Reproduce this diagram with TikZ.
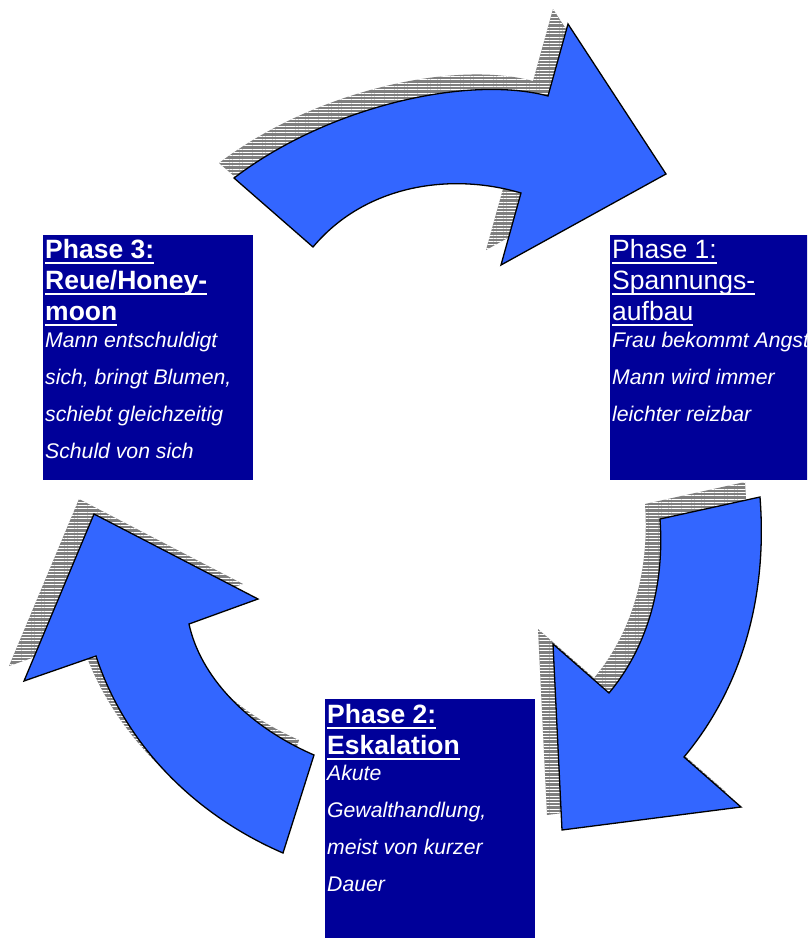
\documentclass[tikz,border=0pt]{standalone}
\usepackage{fontspec}
\setmainfont{Liberation Sans}
\usetikzlibrary{patterns.meta}
\definecolor{arrowblue}{HTML}{3366FF}
\definecolor{boxblue}{HTML}{000099}
\definecolor{shadowgray}{HTML}{7F7F7F}
\newsavebox{\titlebox}
\newcommand{\titleline}[1]{\leavevmode\sbox{\titlebox}{#1}\rlap{\rule[-5.5pt]{\wd\titlebox}{1.8pt}}\usebox{\titlebox}}
\newcommand{\titlefont}{\fontsize{26.5}{31}\selectfont\spaceskip=0pt\xspaceskip=0pt}
\newcommand{\bodyfont}{\fontsize{21.2}{37}\selectfont\mdseries\itshape\spaceskip=0pt\xspaceskip=0pt}
\newcommand{\arrowtop}[1]{\path[#1] (234,178) .. controls (330,105) and (470,75) .. (548,96) -- (568,24) -- (666,174) -- (501,265) -- (521,193) .. controls (450,172) and (365,185) .. (313,247) -- cycle;}
\newcommand{\arrowright}[1]{\path[#1] (760,497) -- (660,519) .. controls (665,590) and (645,650) .. (609,693) -- (553,644) -- (562,830) -- (741,807) -- (684,757) .. controls (740,690) and (768,600) .. (760,497) -- cycle;}
\newcommand{\arrowleft}[1]{\path[#1] (283,853) -- (314,755) .. controls (245,725) and (200,675) .. (189,624) -- (258,599) -- (94,514) -- (24,681) -- (96,656) .. controls (125,745) and (195,815) .. (283,853) -- cycle;}
\begin{document}
\begin{tikzpicture}[x=1pt,y=-1pt]
        \tikzstyle{cyclearrow} = [draw=black, line width=1.3pt, line join=miter, fill=arrowblue]
        \tikzstyle{arrowshadow} = [preaction={fill=shadowgray}, pattern={Lines[angle=0, distance=3.3pt, line width=1pt]}, pattern color=white, shift={(-15,-15)}]
        \tikzstyle{phasebox} = [fill=boxblue, anchor=north west, inner sep=0pt, minimum width=210pt, minimum height=245pt]
        \tikzstyle{phasetext} = [text=white, anchor=base west, inner sep=0pt, text width=260pt, xshift=2pt, yshift=-23pt]
        \useasboundingbox (0,0) rectangle (807,938);
        \clip (0,0) rectangle (807,938);

        \arrowtop{arrowshadow}
        \arrowright{arrowshadow}
        \arrowleft{arrowshadow}
        \arrowtop{cyclearrow}
        \arrowright{cyclearrow}
        \arrowleft{cyclearrow}

        \node[phasebox] (p1box) at (610,235) {};
        \node[phasebox] (p2box) at (325,699) {};
        \node[phasebox] (p3box) at (43,235) {};

        \node[phasetext] (p1text) at (p1box.north west) {\titlefont\titleline{Phase 1:}\\ \titleline{Spannungs-}\\ \titleline{aufbau}\par\vspace{-10pt}\bodyfont Frau bekommt Angst\\ Mann wird immer\\ leichter reizbar\par};
        \node[phasetext, yshift=-1pt] (p2text) at (p2box.north west) {\titlefont\bfseries\titleline{Phase 2:}\\ \titleline{Eskalation}\par\vspace{-11pt}\bodyfont Akute\\ Gewalthandlung,\\ meist von kurzer\\ Dauer\par};
        \node[phasetext] (p3text) at (p3box.north west) {\titlefont\bfseries\titleline{Phase 3:}\\ \titleline{Reue/Honey-}\\ \titleline{moon}\par\vspace{-10pt}\bodyfont Mann entschuldigt\\ sich, bringt Blumen,\\ schiebt gleichzeitig\\ Schuld von sich\par};
\end{tikzpicture}
\end{document}
